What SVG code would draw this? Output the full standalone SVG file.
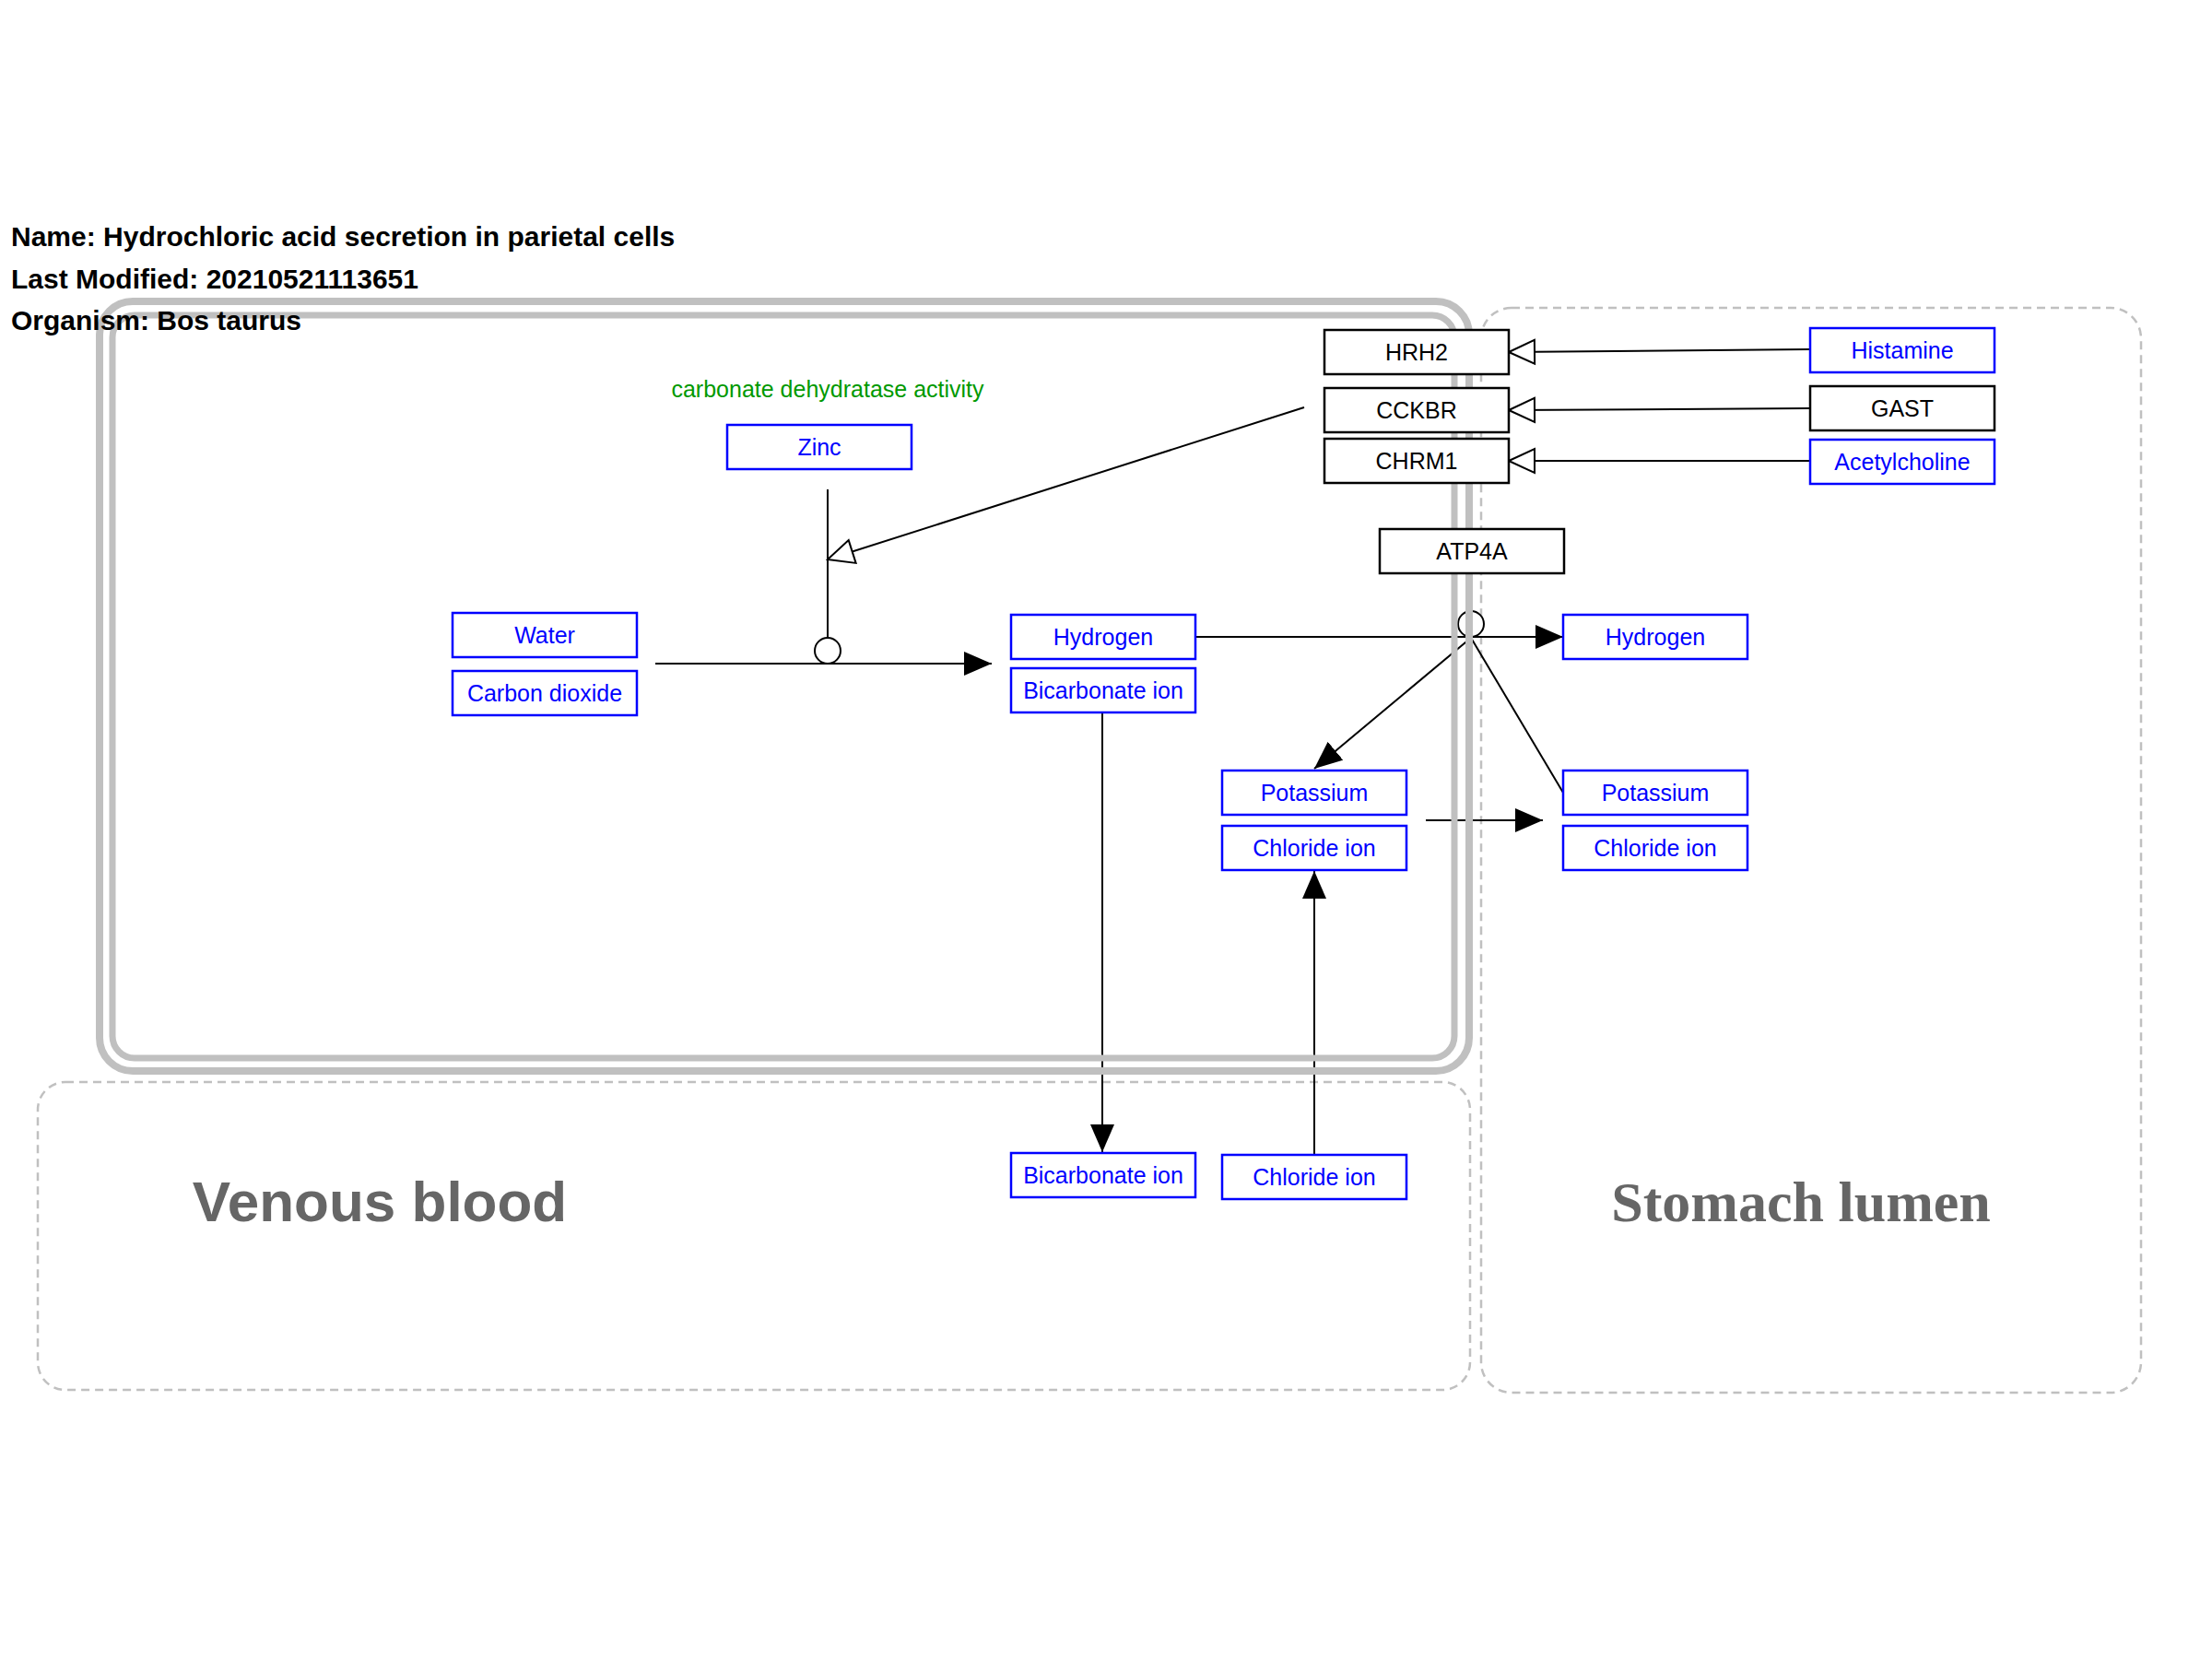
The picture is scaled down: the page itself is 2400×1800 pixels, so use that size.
<svg xmlns="http://www.w3.org/2000/svg" width="2400" height="1800" viewBox="0 0 2400 1800">
<style>
  .title { font-family: "Liberation Sans", Arial, sans-serif; font-size: 30px; font-weight: bold; fill: #000; }
  .lbl { font-family: "Liberation Sans", Arial, sans-serif; font-size: 25px; text-anchor: middle; }
  .met rect { fill: #fff; stroke: #0000ff; stroke-width: 2.5; }
  .met text { fill: #0000ff; }
  .gene rect { fill: #fff; stroke: #000; stroke-width: 2.5; }
  .gene text { fill: #000; }
  .comp { fill: none; stroke: #c0c0c0; stroke-width: 2.5; stroke-dasharray: 9 6; }
  .cell { fill: none; stroke: #c0c0c0; }
  .conn line, .conn path { stroke: #000; stroke-width: 2; fill: none; }
  .conn circle { fill: #fff; stroke: #000; stroke-width: 2; }
</style>
<defs>
  <marker id="arr" markerUnits="userSpaceOnUse" viewBox="0 0 30 26" markerWidth="30" markerHeight="26" refX="30" refY="13" orient="auto">
    <path d="M0,0 L30,13 L0,26 z" fill="#000"/>
  </marker>
  <marker id="open" markerUnits="userSpaceOnUse" viewBox="0 0 32 30" markerWidth="32" markerHeight="30" refX="30" refY="15" orient="auto">
    <path d="M30,15 L2,2 L2,28 z" fill="#fff" stroke="#000" stroke-width="2"/>
  </marker>
</defs>
<rect width="2400" height="1800" fill="#fff"/>

<g id="compartments">
  <g id="venous-blood">
    <rect class="comp" x="41" y="1174" width="1554" height="334" rx="30" ry="30"/>
    <text x="412" y="1325" font-family="'Liberation Sans', Arial, sans-serif" font-size="62" font-weight="bold" fill="#666666" text-anchor="middle">Venous blood</text>
  </g>
  <g id="stomach-lumen">
    <rect class="comp" x="1607" y="334" width="716" height="1177" rx="33" ry="33"/>
    <text x="1954" y="1325" font-family="'Liberation Serif', 'Times New Roman', serif" font-size="62" font-weight="bold" fill="#666666" text-anchor="middle">Stomach lumen</text>
  </g>
</g>

<g id="connectors" class="conn">
  <line x1="711" y1="720" x2="1076" y2="720" marker-end="url(#arr)"/>
  <line x1="898" y1="531" x2="898" y2="692"/>
  <circle cx="898" cy="706" r="14"/>
  <line x1="1415" y1="442" x2="898" y2="607" marker-end="url(#open)"/>
  <line x1="1964" y1="379" x2="1637" y2="382" marker-end="url(#open)"/>
  <line x1="1964" y1="443" x2="1637" y2="445" marker-end="url(#open)"/>
  <line x1="1964" y1="500" x2="1637" y2="500" marker-end="url(#open)"/>
  <line x1="1297" y1="691" x2="1696" y2="691" marker-end="url(#arr)"/>
  <line x1="1594" y1="623" x2="1594" y2="663"/>
  <circle cx="1596" cy="677" r="14"/>
  <line x1="1596" y1="692" x2="1426" y2="834" marker-end="url(#arr)"/>
  <line x1="1596" y1="692" x2="1696" y2="860"/>
  <line x1="1547" y1="890" x2="1674" y2="890" marker-end="url(#arr)"/>
  <line x1="1196" y1="773" x2="1196" y2="1250" marker-end="url(#arr)"/>
  <line x1="1426" y1="1253" x2="1426" y2="945" marker-end="url(#arr)"/>
</g>

<g id="cell">
  <rect class="cell" x="108" y="327" width="1486" height="835" rx="36" ry="36" stroke-width="8"/>
  <rect class="cell" x="122" y="342" width="1456" height="806" rx="24" ry="24" stroke-width="7"/>
</g>

<g id="header">
  <text class="title" x="12" y="267">Name: Hydrochloric acid secretion in parietal cells</text>
  <text class="title" x="12" y="313">Last Modified: 20210521113651</text>
  <text class="title" x="12" y="358">Organism: Bos taurus</text>
</g>

<text id="label-cda" x="898" y="431" font-family="'Liberation Sans', Arial, sans-serif" font-size="25" fill="#009900" text-anchor="middle">carbonate dehydratase activity</text>

<g id="nodes">
  <g id="n-hrh2" class="gene"><rect x="1437" y="358" width="200" height="48"/><text class="lbl" x="1537" y="391">HRH2</text></g>
  <g id="n-cckbr" class="gene"><rect x="1437" y="421" width="200" height="48"/><text class="lbl" x="1537" y="454">CCKBR</text></g>
  <g id="n-chrm1" class="gene"><rect x="1437" y="476" width="200" height="48"/><text class="lbl" x="1537" y="509">CHRM1</text></g>
  <g id="n-atp4a" class="gene"><rect x="1497" y="574" width="200" height="48"/><text class="lbl" x="1597" y="607">ATP4A</text></g>
  <g id="n-histamine" class="met"><rect x="1964" y="356" width="200" height="48"/><text class="lbl" x="2064" y="389">Histamine</text></g>
  <g id="n-gast" class="gene"><rect x="1964" y="419" width="200" height="48"/><text class="lbl" x="2064" y="452">GAST</text></g>
  <g id="n-acetylcholine" class="met"><rect x="1964" y="477" width="200" height="48"/><text class="lbl" x="2064" y="510">Acetylcholine</text></g>
  <g id="n-zinc" class="met"><rect x="789" y="461" width="200" height="48"/><text class="lbl" x="889" y="494">Zinc</text></g>
  <g id="n-water" class="met"><rect x="491" y="665" width="200" height="48"/><text class="lbl" x="591" y="698">Water</text></g>
  <g id="n-co2" class="met"><rect x="491" y="728" width="200" height="48"/><text class="lbl" x="591" y="761">Carbon dioxide</text></g>
  <g id="n-hydrogen-cell" class="met"><rect x="1097" y="667" width="200" height="48"/><text class="lbl" x="1197" y="700">Hydrogen</text></g>
  <g id="n-bicarb-cell" class="met"><rect x="1097" y="725" width="200" height="48"/><text class="lbl" x="1197" y="758">Bicarbonate ion</text></g>
  <g id="n-hydrogen-lumen" class="met"><rect x="1696" y="667" width="200" height="48"/><text class="lbl" x="1796" y="700">Hydrogen</text></g>
  <g id="n-potassium-cell" class="met"><rect x="1326" y="836" width="200" height="48"/><text class="lbl" x="1426" y="869">Potassium</text></g>
  <g id="n-chloride-cell" class="met"><rect x="1326" y="896" width="200" height="48"/><text class="lbl" x="1426" y="929">Chloride ion</text></g>
  <g id="n-potassium-lumen" class="met"><rect x="1696" y="836" width="200" height="48"/><text class="lbl" x="1796" y="869">Potassium</text></g>
  <g id="n-chloride-lumen" class="met"><rect x="1696" y="896" width="200" height="48"/><text class="lbl" x="1796" y="929">Chloride ion</text></g>
  <g id="n-bicarb-blood" class="met"><rect x="1097" y="1251" width="200" height="48"/><text class="lbl" x="1197" y="1284">Bicarbonate ion</text></g>
  <g id="n-chloride-blood" class="met"><rect x="1326" y="1253" width="200" height="48"/><text class="lbl" x="1426" y="1286">Chloride ion</text></g>
</g>
</svg>
